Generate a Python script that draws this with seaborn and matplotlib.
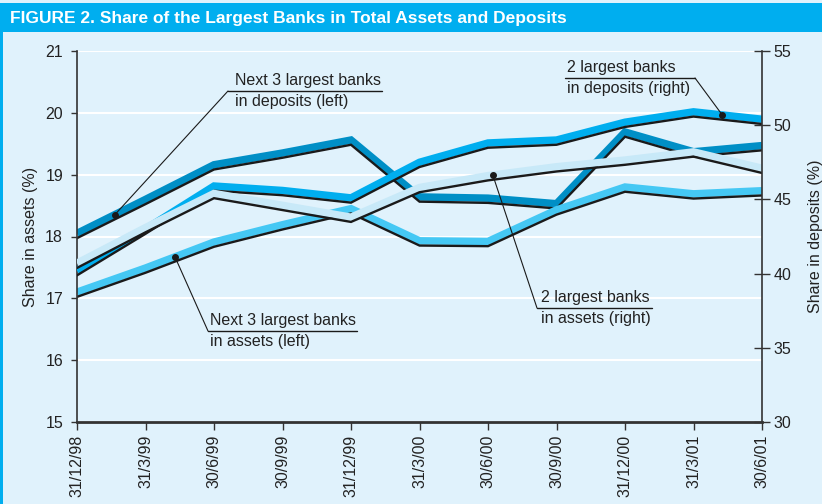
import matplotlib
matplotlib.use("Agg")
import matplotlib.pyplot as plt
import matplotlib.transforms as mtransforms
from matplotlib.patches import Rectangle
import seaborn as sns
import numpy as np

# quarter-end dates on the x axis
dates = ["31/12/98", "31/3/99", "30/6/99", "30/9/99", "31/12/99", "31/3/00",
         "30/6/00", "30/9/00", "31/12/00", "31/3/01", "30/6/01"]

# left axis, share in %
next3_deposits = [18.05, 18.60, 19.16, 19.35, 19.56, 18.64, 18.62, 18.53, 19.69, 19.37, 19.47]
next3_assets = [17.10, 17.49, 17.91, 18.19, 18.45, 17.93, 17.92, 18.43, 18.80, 18.69, 18.74]

# right axis, share in %
top2_deposits = [40.2, 43.0, 45.9, 45.6, 45.1, 47.5, 48.8, 49.0, 50.2, 50.9, 50.4]
top2_assets = [40.7, 43.1, 45.4, 44.6, 43.8, 45.8, 46.6, 47.2, 47.65, 48.2, 47.1]

BG = "#e0f2fc"
TITLE_BG = "#00aeef"
C_DARK = "#008fc6"
C_BLUE = "#00aeef"
C_CYAN = "#45c8f4"
C_PALE = "#c8e9f8"
INK = "#222222"

sns.set_style("white", rc={"axes.facecolor": BG, "figure.facecolor": BG})
plt.rcParams["font.family"] = ["Liberation Sans", "DejaVu Sans"]
plt.rcParams["text.color"] = INK

fig = plt.figure(figsize=(8.22, 5.04), dpi=100)
ax = fig.add_axes([77 / 822, 1 - 422 / 504, 685 / 822, 371 / 504])
ax2 = ax.twinx()

xs = np.arange(len(dates))


def draw_series(axis, values, color):
    sns.lineplot(x=xs, y=values, ax=axis, color=color, lw=5.4,
                 solid_capstyle="butt", solid_joinstyle="miter")
    shadow = mtransforms.offset_copy(axis.transData, fig=fig, x=0, y=-3.4, units="points")
    sns.lineplot(x=xs, y=values, ax=axis, color="#1a1a1a", lw=1.7,
                 transform=shadow, solid_joinstyle="miter")


draw_series(ax, next3_deposits, C_DARK)
draw_series(ax, next3_assets, C_CYAN)
draw_series(ax2, top2_deposits, C_BLUE)
draw_series(ax2, top2_assets, C_PALE)

# axes setup
ax.set_xlim(0, len(dates) - 1)
ax.set_ylim(15, 21)
ax2.set_ylim(30, 55)
ax.set_yticks(range(15, 22))
ax2.set_yticks(range(30, 56, 5))
ax.set_xticks(xs)
ax.set_xticklabels(dates, rotation=90)

ax.grid(axis="y", color="white", lw=1.5)
ax.grid(axis="x", visible=False)
ax.set_axisbelow(True)

for a in (ax, ax2):
    for s in a.spines.values():
        s.set_visible(False)
ax.spines["left"].set_visible(True)
ax.spines["left"].set_color("#333333")
ax.spines["left"].set_linewidth(1.2)
ax.spines["bottom"].set_visible(True)
ax.spines["bottom"].set_color("#333333")
ax.spines["bottom"].set_linewidth(2)
ax2.spines["right"].set_visible(True)
ax2.spines["right"].set_color("#333333")
ax2.spines["right"].set_linewidth(1.2)

ax.tick_params(axis="y", direction="out", length=4, width=1, color="#333333",
               labelsize=11.5, labelcolor=INK, pad=6, left=True)
ax.tick_params(axis="x", direction="out", length=6, width=1, color="#333333",
               labelsize=11.5, labelcolor=INK, pad=3, bottom=True)
ax2.tick_params(axis="y", direction="inout", length=11, width=1, color="#333333",
                labelsize=11.5, labelcolor=INK, pad=3, right=True)

ax.set_ylabel("Share in assets (%)", fontsize=11.5, color=INK, labelpad=5)
ax2.set_ylabel("Share in deposits (%)", fontsize=11.5, color=INK,
               rotation=90, labelpad=12)
ax.set_xlabel("")


def px2ax(x, y):
    return ((x - 77) / 685, (422 - y) / 371)


def label(axis, lines, text_xy, line_from, line_to, dot_x, series):
    # dot on the series, leader line up to the underlined label
    dot_y = np.interp(dot_x, xs, series)
    axis.plot([dot_x], [dot_y], "o", color="#1a1a1a", ms=4, zorder=10)
    p0 = px2ax(*line_from)
    p1 = px2ax(*line_to)
    axis.annotate("", xy=(dot_x, dot_y), xycoords="data", xytext=p0,
                  textcoords=ax.transAxes,
                  arrowprops=dict(arrowstyle="-", lw=0.8, color="#1a1a1a",
                                  shrinkA=0, shrinkB=0), zorder=10)
    ax.plot([p0[0], p1[0]], [p0[1], p1[1]], transform=ax.transAxes,
            color="#1a1a1a", lw=1.0, clip_on=False, zorder=10)
    tx, ty = px2ax(*text_xy)
    ax.text(tx, ty + 0.008, lines[0], transform=ax.transAxes, ha="left",
            va="bottom", fontsize=11.5, color=INK)
    ax.text(tx, ty - 0.008, lines[1], transform=ax.transAxes, ha="left",
            va="top", fontsize=11.5, color=INK)


label(ax, ["Next 3 largest banks", "in deposits (left)"],
      (235, 91), (228, 91), (382, 91), 0.555, next3_deposits)
label(ax2, ["2 largest banks", "in deposits (right)"],
      (567, 78), (695, 78), (565, 78), 9.42, top2_deposits)
label(ax, ["Next 3 largest banks", "in assets (left)"],
      (210, 331), (208, 331), (357, 331), 1.43, next3_assets)
label(ax2, ["2 largest banks", "in assets (right)"],
      (541, 308), (537, 308), (652, 308), 6.07, top2_assets)

# title band and left edge strip
fig.patches.append(Rectangle((0, 1 - 32 / 504), 1, 29 / 504, transform=fig.transFigure,
                             facecolor=TITLE_BG, edgecolor="none", zorder=0))
fig.patches.append(Rectangle((0, 0), 3 / 822, 1 - 32 / 504,
                             transform=fig.transFigure, facecolor=TITLE_BG,
                             edgecolor="none", zorder=0))
fig.text(10 / 822, 1 - 18 / 504, "FIGURE 2. Share of the Largest Banks in Total Assets and Deposits",
         family=["Liberation Sans", "DejaVu Sans"],
         weight="bold", fontsize=12.5, color="white", va="center", ha="left")

fig.savefig("out.png", dpi=100, facecolor=BG)
